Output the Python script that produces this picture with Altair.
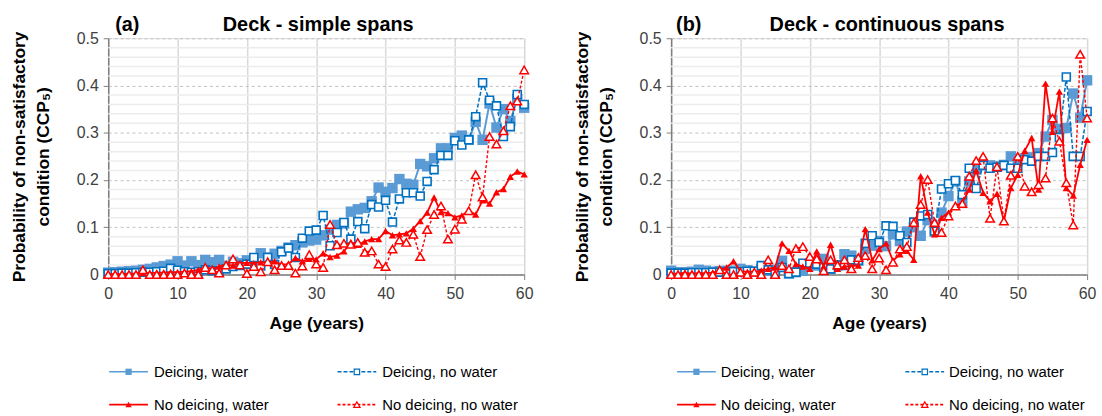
import altair as alt
import pandas as pd

ages = list(range(61))

# ---------- (a) Deck - simple spans ----------
a_deicing_water = [0.004, 0.005, 0.006, 0.007, 0.008, 0.010, 0.012, 0.015, 0.018, 0.021,
                   0.028, 0.019, 0.028, 0.020, 0.031, 0.026, 0.031, 0.018, 0.027, 0.024,
                   0.030, 0.030, 0.045, 0.036, 0.044, 0.050, 0.057, 0.062, 0.068, 0.072,
                   0.074, 0.083, 0.095, 0.105, 0.108, 0.133, 0.138, 0.141, 0.155, 0.184,
                   0.175, 0.183, 0.202, 0.192, 0.190, 0.234, 0.229, 0.246, 0.267, 0.267,
                   0.289, 0.294, 0.285, 0.323, 0.285, 0.362, 0.311, 0.350, 0.325, 0.372,
                   0.353]
a_deicing_nowater = [0.002, 0.002, 0.003, 0.003, 0.004, 0.005, 0.005, 0.006, 0.007, 0.013,
                     0.009, 0.006, 0.005, 0.006, 0.010, 0.008, 0.005, 0.012, 0.017, 0.019,
                     0.022, 0.036, 0.018, 0.036, 0.021, 0.048, 0.056, 0.036, 0.077, 0.092,
                     0.094, 0.125, 0.061, 0.089, 0.110, 0.075, 0.112, 0.097, 0.148, 0.143,
                     0.157, 0.111, 0.160, 0.173, 0.173, 0.166, 0.197, 0.222, 0.252, 0.252,
                     0.283, 0.274, 0.285, 0.334, 0.406, 0.369, 0.357, 0.292, 0.313, 0.381,
                     0.360]
a_nodeicing_water = [0.001, 0.001, 0.001, 0.002, 0.002, 0.003, 0.003, 0.004, 0.004, 0.005,
                     0.005, 0.006, 0.007, 0.010, 0.015, 0.012, 0.017, 0.021, 0.019, 0.024,
                     0.025, 0.024, 0.026, 0.025, 0.028, 0.021, 0.022, 0.035, 0.028, 0.033,
                     0.032, 0.045, 0.037, 0.040, 0.049, 0.068, 0.063, 0.070, 0.075, 0.075,
                     0.092, 0.083, 0.085, 0.087, 0.097, 0.113, 0.131, 0.163, 0.132, 0.130,
                     0.121, 0.125, 0.135, 0.127, 0.157, 0.150, 0.174, 0.181, 0.207, 0.218,
                     0.212]
a_nodeicing_nowater = [0.0, 0.0, 0.0, 0.0, 0.0, 0.010, 0.0, 0.0, 0.0, 0.0,
                       0.0, 0.003, 0.0, 0.0, 0.015, 0.010, 0.003, 0.020, 0.033, 0.020,
                       0.002, 0.017, 0.006, 0.027, 0.010, 0.019, 0.019, 0.003, 0.018, 0.042,
                       0.022, 0.015, 0.106, 0.063, 0.066, 0.064, 0.068, 0.047, 0.050, 0.022,
                       0.017, 0.054, 0.073, 0.068, 0.085, 0.038, 0.095, 0.127, 0.145, 0.075,
                       0.096, 0.117, 0.135, 0.211, 0.164, 0.292, 0.276, 0.304, 0.357, 0.367,
                       0.433]

# ---------- (b) Deck - continuous spans ----------
b_deicing_water = [0.008, 0.005, 0.005, 0.006, 0.010, 0.008, 0.006, 0.007, 0.008, 0.008,
                   0.012, 0.009, 0.006, 0.012, 0.008, 0.010, 0.029, 0.002, 0.005, 0.008,
                   0.022, 0.019, 0.033, 0.012, 0.019, 0.043, 0.040, 0.029, 0.054, 0.061,
                   0.071, 0.060, 0.085, 0.071, 0.091, 0.100, 0.082, 0.115, 0.091, 0.131,
                   0.166, 0.197, 0.155, 0.197, 0.222, 0.232, 0.231, 0.229, 0.232, 0.250,
                   0.241, 0.246, 0.248, 0.257, 0.292, 0.327, 0.308, 0.310, 0.383, 0.332,
                   0.411]
b_deicing_nowater = [0.003, 0.003, 0.003, 0.004, 0.004, 0.004, 0.005, 0.005, 0.006, 0.006,
                     0.006, 0.007, 0.007, 0.019, 0.010, 0.004, 0.015, 0.002, 0.005, 0.024,
                     0.024, 0.022, 0.015, 0.012, 0.020, 0.019, 0.031, 0.030, 0.066, 0.082,
                     0.068, 0.103, 0.102, 0.082, 0.068, 0.111, 0.124, 0.127, 0.092, 0.181,
                     0.192, 0.199, 0.169, 0.225, 0.182, 0.231, 0.225, 0.227, 0.231, 0.225,
                     0.225, 0.243, 0.240, 0.250, 0.250, 0.258, 0.290, 0.418, 0.250, 0.250,
                     0.345]
b_nodeicing_water = [0.002, 0.002, 0.004, 0.002, 0.003, 0.003, 0.004, 0.008, 0.015, 0.028,
                     0.007, 0.006, 0.006, 0.008, 0.012, 0.015, 0.066, 0.050, 0.022, 0.017,
                     0.012, 0.049, 0.017, 0.063, 0.012, 0.017, 0.018, 0.019, 0.096, 0.030,
                     0.054, 0.066, 0.029, 0.043, 0.050, 0.031, 0.208, 0.131, 0.085, 0.120,
                     0.131, 0.145, 0.152, 0.180, 0.220, 0.173, 0.155, 0.171, 0.113, 0.183,
                     0.211, 0.262, 0.289, 0.180, 0.404, 0.302, 0.387, 0.183, 0.167, 0.232,
                     0.285]
b_nodeicing_nowater = [0.0, 0.0, 0.0, 0.0, 0.0, 0.0, 0.0, 0.010, 0.0, 0.0,
                       0.005, 0.0, 0.005, 0.0, 0.031, 0.0, 0.019, 0.012, 0.055, 0.059,
                       0.038, 0.033, 0.008, 0.031, 0.020, 0.031, 0.012, 0.036, 0.040, 0.012,
                       0.035, 0.010, 0.026, 0.054, 0.059, 0.110, 0.148, 0.201, 0.110, 0.089,
                       0.124, 0.145, 0.150, 0.208, 0.241, 0.250, 0.119, 0.228, 0.113, 0.210,
                       0.250, 0.187, 0.175, 0.190, 0.204, 0.331, 0.282, 0.194, 0.105, 0.466,
                       0.331]

series_names = ["Deicing, water", "Deicing, no water", "No deicing, water", "No deicing, no water"]
x_ticks = [0, 10, 20, 30, 40, 50, 60]
y_ticks = [0, 0.1, 0.2, 0.3, 0.4, 0.5]
y_minor = [0.02, 0.04, 0.06, 0.08, 0.12, 0.14, 0.16, 0.18, 0.22, 0.24, 0.26, 0.28,
           0.32, 0.34, 0.36, 0.38, 0.42, 0.44, 0.46, 0.48]

FONT = "Liberation Sans"
STYLE = {
    "Deicing, water": dict(color="#5B9BD5", dash=[1, 0], lw=2.0, shape="square", filled=True, size=110, sw=0, lsize=40),
    "Deicing, no water": dict(color="#0070C0", dash=[4, 2], lw=1.5, shape="square", filled=False, size=64, sw=1.6, lsize=30),
    "No deicing, water": dict(color="#FF0000", dash=[1, 0], lw=1.8, shape="triangle-up", filled=True, size=55, sw=0, lsize=40),
    "No deicing, no water": dict(color="#FF0000", dash=[3, 2], lw=1.4, shape="triangle-up", filled=False, size=75, sw=1.5, lsize=40),
}

W, H = 419, 238

x_enc = alt.X("age:Q", scale=alt.Scale(domain=[0, 60], nice=False),
              axis=alt.Axis(values=x_ticks, grid=True, gridColor="#d9d9d9", gridWidth=1.5,
                            tickSize=5, tickColor="#7f7f7f", domainColor="#7f7f7f", domainWidth=1.5,
                            labelFont=FONT, labelFontSize=16, labelColor="#404040", labelPadding=6,
                            labelFlush=False, labelOverlap=False,
                            title="Age (years)", titleFont=FONT, titleFontSize=17.5,
                            titleFontWeight="bold", titleColor="#000000", titlePadding=13))
y_axis = alt.Axis(values=y_ticks, format=".1~f", grid=True, gridColor="#bfbfbf", gridDash=[3, 3],
                  gridWidth=1, tickSize=5, tickColor="#7f7f7f", domainColor="#7f7f7f", domainWidth=1.5,
                  labelFont=FONT, labelFontSize=16, labelColor="#404040", labelPadding=5,
                  labelFlush=False, labelOverlap=False,
                  title=["Probability of non-satisfactory", "condition (CCP\u2085)"],
                  titleFont=FONT, titleFontSize=17.5, titleFontWeight="bold", titleColor="#000000",
                  titleLineHeight=24, titlePadding=24)
y_scale = alt.Scale(domain=[0, 0.5], nice=False)


def panel(values, tag, title, title_dx, tag_x, leg_cols, text_off):
    layers = []
    minor = alt.Chart(pd.DataFrame({"p": y_minor})).mark_rule(
        color="#ececec", strokeWidth=1.5).encode(y=alt.Y("p:Q", scale=y_scale, axis=y_axis))
    layers.append(minor)
    for name, vals in zip(series_names, values):
        st = STYLE[name]
        df = pd.DataFrame({"age": ages, "p": vals, "series": name})
        base = alt.Chart(df).encode(x=x_enc, y=alt.Y("p:Q", scale=y_scale, axis=y_axis))
        layers.append(base.mark_line(color=st["color"], strokeDash=st["dash"], strokeWidth=st["lw"]))
        if st["filled"]:
            pt = base.mark_point(shape=st["shape"], filled=True, fill=st["color"], size=st["size"],
                                 opacity=1, strokeWidth=0)
        else:
            pt = base.mark_point(shape=st["shape"], filled=True, fill="#ffffff", stroke=st["color"],
                                 strokeWidth=st["sw"], size=st["size"], opacity=1)
        layers.append(pt)
    # legend (two rows x two columns, below the plot)
    rows_y = [336, 369]
    for i, name in enumerate(series_names):
        st = STYLE[name]
        x0 = leg_cols[i % 2]
        yy = rows_y[i // 2]
        one = alt.Chart(pd.DataFrame({"series": [name]}))
        layers.append(one.mark_rule(color=st["color"], strokeDash=st["dash"], strokeWidth=1.6).encode(
            x=alt.value(x0), x2=alt.value(x0 + 39), y=alt.value(yy)))
        if st["filled"]:
            lp = one.mark_point(shape=st["shape"], filled=True, fill=st["color"], opacity=1, strokeWidth=0,
                                size=st["lsize"])
        else:
            lp = one.mark_point(shape=st["shape"], filled=True, fill="#ffffff", stroke=st["color"], opacity=1,
                                strokeWidth=1.2, size=st["lsize"])
        layers.append(lp.encode(x=alt.value(x0 + 19.5), y=alt.value(yy)))
        layers.append(one.mark_text(align="left", baseline="middle", font=FONT, fontSize=15,
                                    color="#000000").encode(
            x=alt.value(x0 + text_off), y=alt.value(yy), text=alt.Text("series:N")))
    # panel tag and panel heading
    hd = alt.Chart(pd.DataFrame({"t": [tag], "h": [title]}))
    layers.append(hd.mark_text(
        align="left", baseline="alphabetic", font=FONT, fontSize=20, fontWeight="bold",
        color="#000000").encode(x=alt.value(tag_x), y=alt.value(-7), text=alt.Text("t:N")))
    layers.append(hd.mark_text(
        align="center", baseline="alphabetic", font=FONT, fontSize=20, fontWeight="bold",
        color="#000000").encode(x=alt.value(W / 2 + title_dx), y=alt.value(-7), text=alt.Text("h:N")))
    return alt.layer(*layers).properties(width=W, height=H)


left = panel([a_deicing_water, a_deicing_nowater, a_nodeicing_water, a_nodeicing_nowater],
             "(a)", "Deck  -  simple  spans", 2, 7, [1, 231], 45)
right = panel([b_deicing_water, b_deicing_nowater, b_nodeicing_water, b_nodeicing_nowater],
              "(b)", "Deck  -  continuous  spans", 8, 5, [6, 236], 44)

chart = alt.hconcat(left, right, spacing=148, bounds="flush").properties(
    padding={"left": 10, "top": 13, "right": 5, "bottom": 5}
).configure_view(stroke=None).configure(background="#ffffff")

chart.save("out.html", embed_options={"renderer": "svg", "actions": False})
